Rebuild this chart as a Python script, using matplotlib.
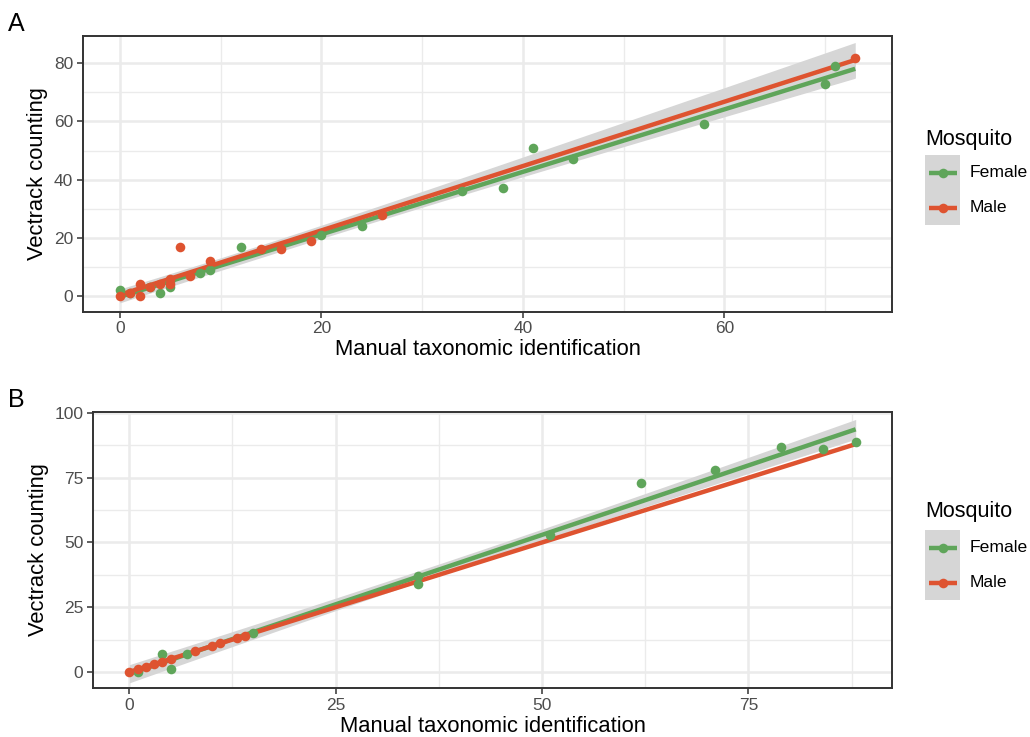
import numpy as np
import matplotlib
matplotlib.use("Agg")
import matplotlib.pyplot as plt
from matplotlib.patches import Rectangle
from matplotlib.ticker import MultipleLocator

plt.rcParams['font.family'] = ['Liberation Sans', 'DejaVu Sans']

# panel A values
a_female_x = [0, 1, 3, 4, 5, 5, 8, 9, 12, 20, 24, 34, 38, 41, 45, 58, 70, 71]
a_female_y = [2, 1, 3, 1, 3, 5, 8, 9, 17, 21, 24, 36, 37, 51, 47, 59, 73, 79]
a_male_x = [0, 1, 2, 2, 3, 4, 5, 5, 6, 7, 9, 14, 16, 19, 26, 73]
a_male_y = [0, 1, 4, 0, 3, 4, 6, 4, 17, 7, 12, 16, 16, 19, 28, 82]

# panel B values
b_female_x = [1, 4, 5, 7, 15, 35, 35, 51, 62, 71, 79, 84, 88]
b_female_y = [0, 7, 1, 7, 15, 37, 34, 53, 73, 78, 87, 86, 89]
b_male_x = [0, 1, 2, 3, 4, 5, 8, 10, 11, 13, 14]
b_male_y = [0, 1, 2, 3, 4, 5, 8, 10, 11, 13, 14]

groups = ["Female", "Male"]
colors = {"Female": "#5FA55A", "Male": "#DE5330"}
ribbon_col = "#D6D6D6"
grid_col = "#EBEBEB"
border_col = "#333333"
tick_col = "#4D4D4D"


def t_quantile(df):
    # Cornish-Fisher approximation of the 97.5% t quantile
    z = 1.959964
    return (z + (z**3 + z) / (4 * df) + (5 * z**5 + 16 * z**3 + 3 * z) / (96 * df**2)
            + (3 * z**7 + 19 * z**5 + 17 * z**3 - 15 * z) / (384 * df**3))


def lm_band(x, y, xs):
    x = np.asarray(x, float)
    y = np.asarray(y, float)
    n = len(x)
    b, a = np.polyfit(x, y, 1)
    resid = y - (a + b * x)
    s = np.sqrt(np.sum(resid**2) / (n - 2))
    sxx = np.sum((x - x.mean())**2)
    se = s * np.sqrt(1.0 / n + (xs - x.mean())**2 / sxx)
    fit = a + b * xs
    t = t_quantile(n - 2)
    return fit, fit - t * se, fit + t * se


def draw_panel(ax, data, xmaj, ymaj, ylim):
    allx = np.concatenate([data[g][0] for g in groups])
    xs = np.linspace(allx.min(), allx.max(), 200)

    for g in groups:
        fit, lo, hi = lm_band(data[g][0], data[g][1], xs)
        ax.fill_between(xs, lo, hi, color=ribbon_col, lw=0, zorder=2)
        ax.plot(xs, fit, color=colors[g], lw=3.2, zorder=3, solid_capstyle="butt")
    for g in groups:
        ax.scatter(data[g][0], data[g][1], s=48, color=colors[g], lw=0, zorder=4)

    xr = allx.max() - allx.min()
    ax.set_xlim(allx.min() - 0.05 * xr, allx.max() + 0.05 * xr)
    ax.set_ylim(*ylim)

    ax.xaxis.set_major_locator(MultipleLocator(xmaj))
    ax.xaxis.set_minor_locator(MultipleLocator(xmaj / 2))
    ax.yaxis.set_major_locator(MultipleLocator(ymaj))
    ax.yaxis.set_minor_locator(MultipleLocator(ymaj / 2))
    ax.grid(which="major", color=grid_col, lw=1.8, zorder=0)
    ax.grid(which="minor", color=grid_col, lw=1.0, zorder=0)
    ax.set_axisbelow(True)
    ax.tick_params(which="minor", length=0)
    ax.tick_params(which="major", length=4, width=1.1, color=border_col,
                   labelcolor=tick_col, labelsize=12.5, pad=3)
    for sp in ax.spines.values():
        sp.set_color(border_col)
        sp.set_linewidth(1.4)
    ax.set_xlabel("Manual taxonomic identification", fontsize=15.8, labelpad=2)
    ax.set_ylabel("Vectrack counting", fontsize=15.8, labelpad=4)


def draw_legend(fig, x0, ytitle, ykey):
    W, H = 1030.0, 737.0
    fig.text(x0 / W, 1 - ytitle / H, "Mosquito", fontsize=15.5, va="center", ha="left")
    for i, g in enumerate(groups):
        top = ykey + i * 35
        kax = fig.add_axes([x0 / W, 1 - (top + 35) / H, 35 / W, 35 / H])
        kax.set_xlim(0, 1)
        kax.set_ylim(0, 1)
        kax.axis("off")
        kax.add_patch(Rectangle((0, 0), 1, 1, color=ribbon_col, lw=0))
        kax.plot([0.1, 0.9], [0.5, 0.5], color=colors[g], lw=3.2, solid_capstyle="butt")
        kax.scatter([0.5], [0.5], s=48, color=colors[g], lw=0, zorder=3)
        fig.text((x0 + 45) / W, 1 - (top + 17.5) / H, g, fontsize=12.6,
                 va="center", ha="left")


fig = plt.figure(figsize=(10.30, 7.37), dpi=100)
W, H = 1030.0, 737.0
ax_a = fig.add_axes([83 / W, 1 - 311.7 / H, (892 - 83) / W, 276 / H])
ax_b = fig.add_axes([93 / W, 1 - 688 / H, (892 - 93) / W, 276 / H])

data_a = {"Female": (np.array(a_female_x), np.array(a_female_y)),
          "Male": (np.array(a_male_x), np.array(a_male_y))}
data_b = {"Female": (np.array(b_female_x), np.array(b_female_y)),
          "Male": (np.array(b_male_x), np.array(b_male_y))}

draw_panel(ax_a, data_a, 20, 20, (-5.4, 89.5))
draw_panel(ax_b, data_b, 25, 25, (-6.2, 100.4))

draw_legend(fig, 925, 139, 155)
draw_legend(fig, 925, 512, 530)

fig.text(8 / W, 1 - 24 / H, "A", fontsize=18, va="center", ha="left")
fig.text(8 / W, 1 - 400 / H, "B", fontsize=18, va="center", ha="left")

fig.savefig("out.png", dpi=100)
